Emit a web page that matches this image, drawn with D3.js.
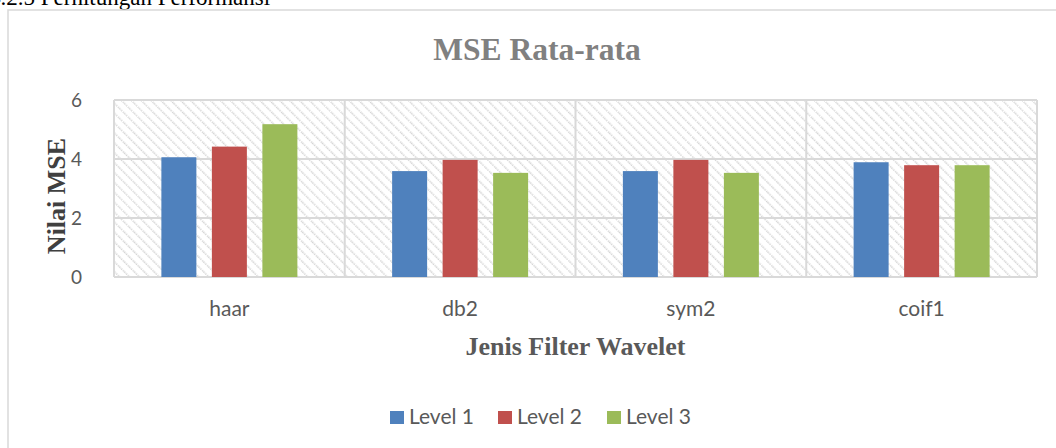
<!DOCTYPE html>
<html lang="en">
<head>
<meta charset="UTF-8">
<script src="https://cdn.jsdelivr.net/npm/d3@7"></script>
<title>MSE Rata-rata</title>
<style>
  body { margin: 0; background: #fff; overflow: hidden; }
  svg { display: block; }
</style>
</head>
<body>
<script>
// data
var categories = ["haar", "db2", "sym2", "coif1"];
var seriesNames = ["Level 1", "Level 2", "Level 3"];
var level1 = [4.06, 3.59, 3.59, 3.89];
var level2 = [4.42, 3.97, 3.97, 3.79];
var level3 = [5.18, 3.53, 3.53, 3.79];
var yTicks = [0, 2, 4, 6];
var colors = ["#4f81bd", "#c0504d", "#9bbb59"];

var W = 1056, H = 448;
var plot = {left: 114, right: 1037, top: 100, bottom: 277};

var svg = d3.select("body").append("svg")
    .attr("width", W).attr("height", H);

// hatch pattern of the plot area
var defs = svg.append("defs");
var pat = defs.append("pattern")
    .attr("id", "hatch")
    .attr("patternUnits", "userSpaceOnUse")
    .attr("width", 7).attr("height", 7)
    .attr("patternTransform", "rotate(-45)");
pat.append("rect").attr("width", 7).attr("height", 7).attr("fill", "#fff");
pat.append("line")
    .attr("x1", 0).attr("y1", 0).attr("x2", 0).attr("y2", 7)
    .attr("stroke", "#d4d4d4").attr("stroke-width", 3)
    .attr("stroke-dasharray", "1.5,1");

// heading of the document, clipped at the top
svg.append("text")
    .attr("x", -11).attr("y", 5)
    .attr("font-family", "Liberation Serif, Times New Roman, serif")
    .attr("font-size", 23)
    .attr("fill", "#000")
    .text("4.2.5 Perhitungan Performansi");

// chart frame
svg.append("rect")
    .attr("x", 8).attr("y", 10)
    .attr("width", 1200).attr("height", 600)
    .attr("fill", "#fff")
    .attr("stroke", "#d9d9d9").attr("stroke-width", 1.5);

var x0 = d3.scaleBand().domain(categories).range([plot.left, plot.right]).padding(0);
var groupW = 136;
var x1 = d3.scaleBand().domain(seriesNames).range([0, groupW]).paddingInner(0.307).paddingOuter(0);
var y = d3.scaleLinear().domain([0, 6]).range([plot.bottom, plot.top]);

// plot area background
svg.append("rect")
    .attr("x", plot.left).attr("y", plot.top)
    .attr("width", plot.right - plot.left).attr("height", plot.bottom - plot.top)
    .attr("fill", "url(#hatch)");

// gridlines
svg.append("g").selectAll("line.h")
    .data(yTicks)
    .enter().append("line")
    .attr("x1", plot.left).attr("x2", plot.right)
    .attr("y1", function(d){ return y(d); })
    .attr("y2", function(d){ return y(d); })
    .attr("stroke", "#d9d9d9").attr("stroke-width", 2);

var vx = categories.map(function(c){ return x0(c); }).concat([plot.right]);
svg.append("g").selectAll("line.v")
    .data(vx)
    .enter().append("line")
    .attr("x1", function(d){ return d; }).attr("x2", function(d){ return d; })
    .attr("y1", plot.top).attr("y2", plot.bottom)
    .attr("stroke", "#d9d9d9").attr("stroke-width", 2);

// bars
var seriesData = [level1, level2, level3];
var offset = (x0.bandwidth() - groupW) / 2;
seriesData.forEach(function(vals, si){
    svg.append("g").selectAll("rect")
        .data(vals)
        .enter().append("rect")
        .attr("x", function(d, i){ return x0(categories[i]) + offset + x1(seriesNames[si]); })
        .attr("y", function(d){ return y(d); })
        .attr("width", x1.bandwidth())
        .attr("height", function(d){ return y(0) - y(d); })
        .attr("fill", colors[si]);
});

// y tick labels
svg.append("g").selectAll("text")
    .data(yTicks)
    .enter().append("text")
    .attr("x", 82)
    .attr("y", function(d){ return y(d); })
    .attr("dy", "0.35em")
    .attr("text-anchor", "end")
    .attr("font-family", "Lato, sans-serif")
    .attr("font-size", 19)
    .attr("fill", "#595959")
    .text(function(d){ return d; });

// x tick labels
svg.append("g").selectAll("text")
    .data(categories)
    .enter().append("text")
    .attr("x", function(d){ return x0(d) + x0.bandwidth() / 2; })
    .attr("y", 316)
    .attr("text-anchor", "middle")
    .attr("font-family", "Lato, sans-serif")
    .attr("font-size", 21)
    .attr("fill", "#595959")
    .text(function(d){ return d; });

// titles
svg.append("text")
    .attr("x", 537).attr("y", 60)
    .attr("text-anchor", "middle")
    .attr("font-family", "Liberation Serif, Times New Roman, serif")
    .attr("font-weight", "bold")
    .attr("font-size", 31.5)
    .attr("fill", "#808080")
    .text("MSE Rata-rata");

svg.append("text")
    .attr("x", (plot.left + plot.right) / 2).attr("y", 355)
    .attr("text-anchor", "middle")
    .attr("font-family", "Liberation Serif, Times New Roman, serif")
    .attr("font-weight", "bold")
    .attr("font-size", 26)
    .attr("fill", "#595959")
    .text("Jenis Filter Wavelet");

svg.append("text")
    .attr("transform", "translate(65,196) rotate(-90)")
    .attr("text-anchor", "middle")
    .attr("font-family", "Liberation Serif, Times New Roman, serif")
    .attr("font-weight", "bold")
    .attr("font-size", 26)
    .attr("fill", "#404040")
    .text("Nilai MSE");

// legend
var legendX = [390, 498, 607];
var lg = svg.append("g").selectAll("g")
    .data(seriesNames)
    .enter().append("g")
    .attr("transform", function(d, i){ return "translate(" + legendX[i] + ",411)"; });
lg.append("rect")
    .attr("width", 14).attr("height", 13)
    .attr("fill", function(d, i){ return colors[i]; });
lg.append("text")
    .attr("x", 19).attr("y", 13)
    .attr("font-family", "Lato, sans-serif")
    .attr("font-size", 21)
    .attr("fill", "#595959")
    .text(function(d){ return d; });
</script>
</body>
</html>
